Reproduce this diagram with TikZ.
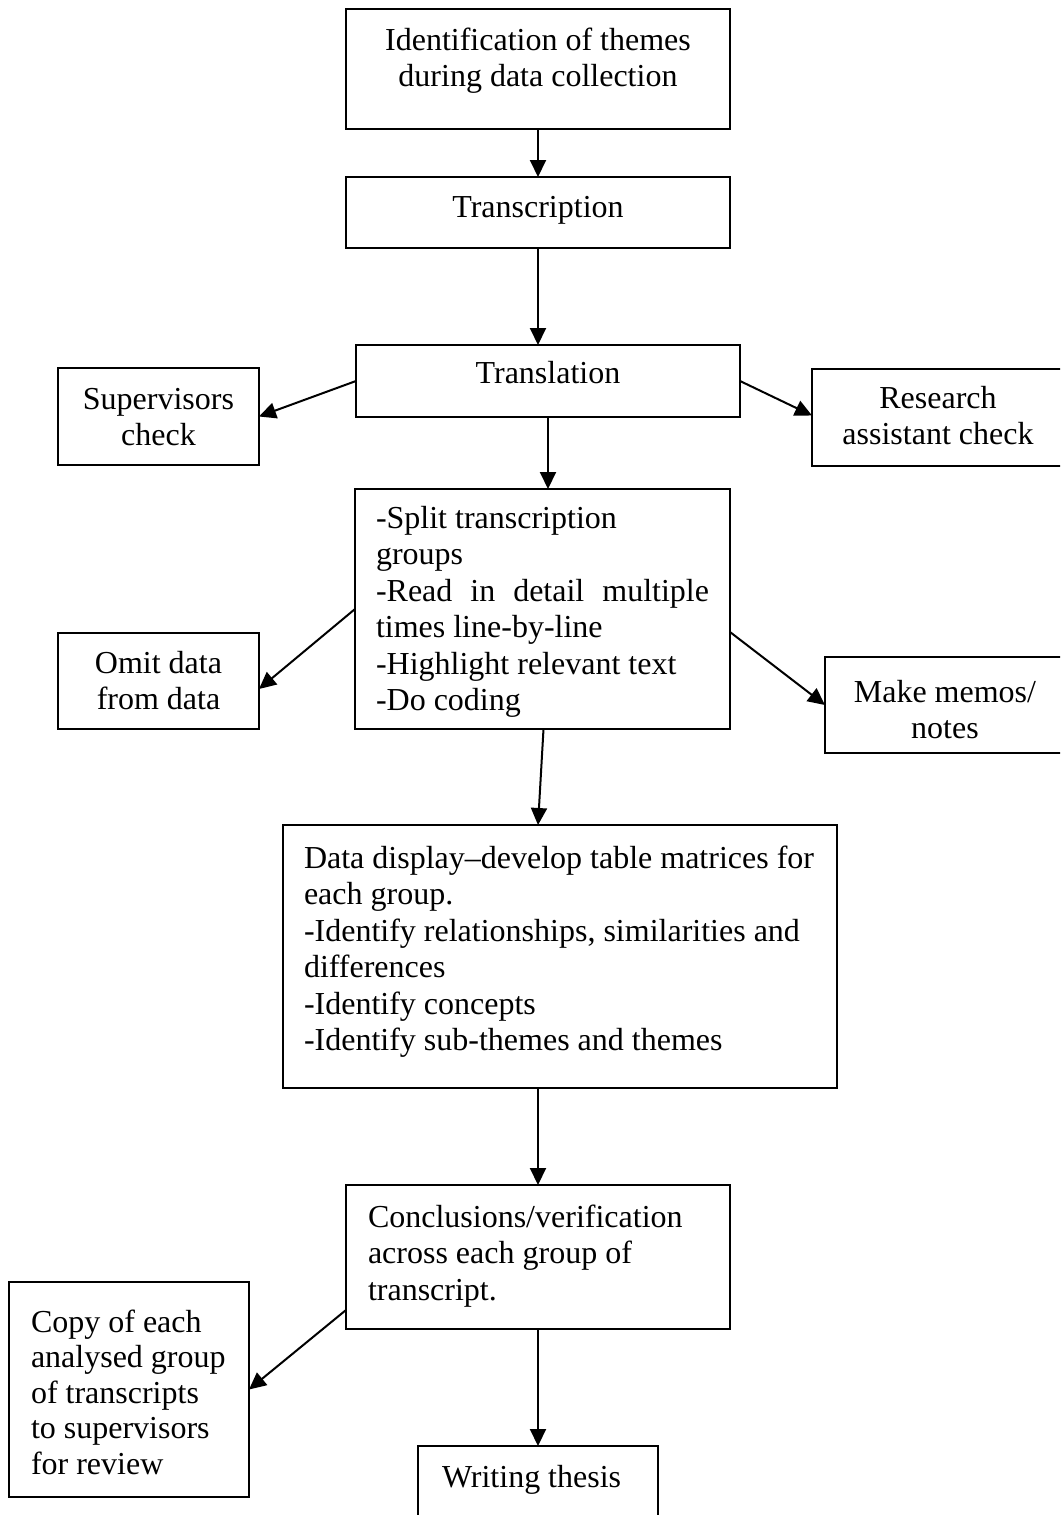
\documentclass[tikz,border=0pt]{standalone}
\usepackage{fontspec}
\setmainfont{Liberation Serif}
\usetikzlibrary{arrows.meta,calc}
\tikzset{
  box/.style={draw, line width=2pt, inner sep=0pt, outer sep=0pt, anchor=north west},
  txt/.style={inner sep=0pt, outer sep=0pt, font=\fontsize{32}{36.5}\selectfont},
  arr/.style={line width=2pt, -{Triangle[length=17pt,width=16pt]}},
}
\begin{document}
\begin{tikzpicture}[x=1pt,y=-1pt]
\useasboundingbox (0,0) rectangle (1060,1515);
\fill[white] (0,0) rectangle (1060,1515);
\clip (0,0) rectangle (1060,1515);

% boxes
\node[box, minimum width=384pt, minimum height=120pt] (A) at (346,9) {};
\node[box, minimum width=384pt, minimum height=71pt] (trn) at (346,177) {};
\node[box, minimum width=384pt, minimum height=72pt] (trl) at (356,345) {};
\node[box, minimum width=201pt, minimum height=97pt] (sup) at (58,368) {};
\node[box, minimum width=260pt, minimum height=97pt] (res) at (812,369) {};
\node[box, minimum width=375pt, minimum height=240pt] (D) at (355,489) {};
\node[box, minimum width=201pt, minimum height=96pt] (omit) at (58,633) {};
\node[box, minimum width=250pt, minimum height=96pt] (memo) at (825,657) {};
\node[box, minimum width=554pt, minimum height=263pt] (E) at (283,825) {};
\node[box, minimum width=384pt, minimum height=144pt] (F) at (346,1185) {};
\node[box, minimum width=240pt, minimum height=215pt] (copy) at (9,1282) {};
\node[box, minimum width=240pt, minimum height=120pt] (W) at (418,1446) {};

% texts
\node[txt, anchor=base] (tA) at (538,50) {\parbox[t]{380pt}{\centering Identification of themes\\during data collection}};
\node[txt, anchor=base] (tT) at (538,217) {Transcription};
\node[txt, anchor=base] (tL) at (548,383) {Translation};
\node[txt, anchor=base] (tS) at (158.5,409) {\parbox[t]{200pt}{\centering Supervisors\\check}};
\node[txt, anchor=base] (tR) at (938,408) {\parbox[t]{250pt}{\centering Research\\assistant check}};
\node[txt, anchor=base] (tO) at (158.5,673) {\parbox[t]{200pt}{\centering Omit data\\from data}};
\node[txt, anchor=base] (tM) at (945,702) {\parbox[t]{250pt}{\centering Make memos/\\notes}};
\node[txt, anchor=base west] (tD) at (376,528) {\parbox[t]{333pt}{\raggedright -Split transcription\\groups\\\makebox[333pt][s]{-Read in detail multiple}\\times line-by-line\\-Highlight relevant text\\-Do coding}};
\node[txt, anchor=base west] (tE) at (304,868) {\parbox[t]{530pt}{\raggedright Data display\textendash develop table matrices for\\each group.\\-Identify relationships, similarities and\\differences\\-Identify concepts\\-Identify sub-themes and themes}};
\node[txt, anchor=base west] (tF) at (368,1227) {\parbox[t]{360pt}{\raggedright Conclusions/verification\\across each group of\\transcript.}};
\node[txt, anchor=base west, font=\fontsize{32}{35.5}\selectfont] (tC) at (31,1332) {\parbox[t]{215pt}{\raggedright Copy of each\\analysed group\\of transcripts\\to supervisors\\for review}};
\node[txt, anchor=base west] (tW) at (442,1487) {Writing thesis};

% connectors
\draw[arr] (A.south) -- (trn.north);
\draw[arr] (trn.south) -- (trn.south |- trl.north);
\draw[arr] (trl.west) -- (sup.east);
\draw[arr] (trl.east) -- ([yshift=2pt]res.west);
\draw[arr] (trl.south) -- (trl.south |- D.north);
\draw[arr] (D.west) -- ([yshift=-8pt]omit.east);
\draw[arr] ([yshift=-23pt]D.east) -- (memo.west);
\draw[arr] ([xshift=1pt]D.south) -- (A.south |- E.north);
\draw[arr] (F.north |- E.south) -- (F.north);
\draw[arr] ([yshift=19pt]F.south west) -- (copy.east);
\draw[arr] (F.south) -- (W.north);
\end{tikzpicture}
\end{document}
